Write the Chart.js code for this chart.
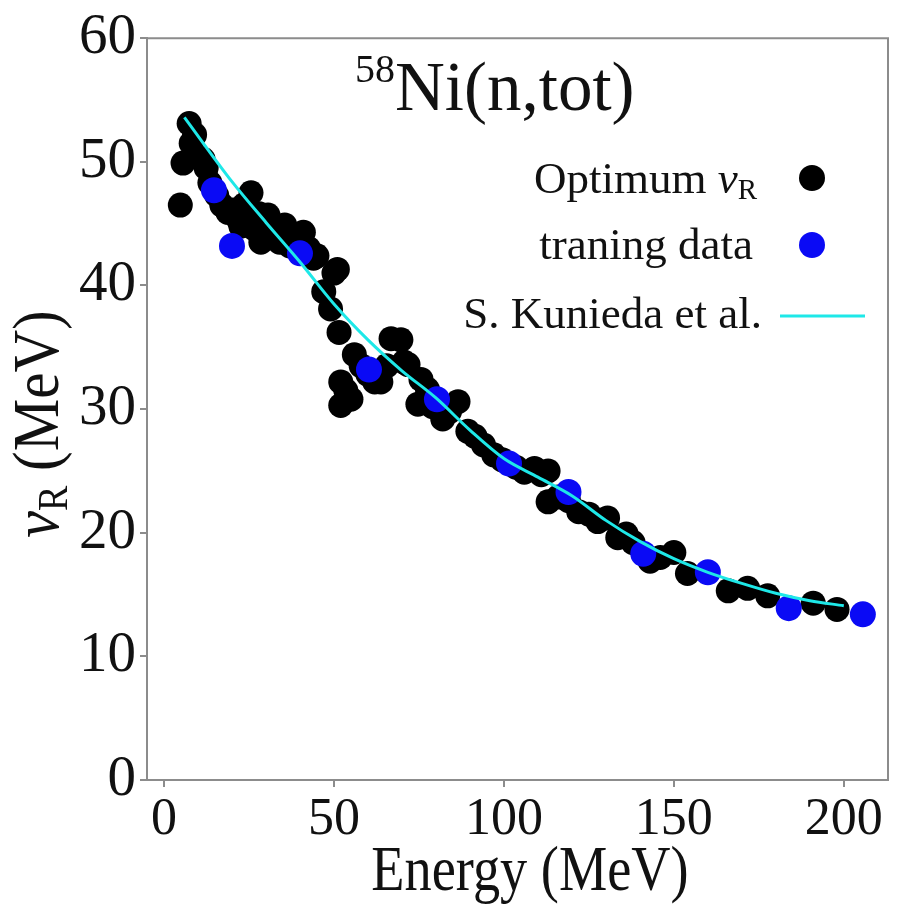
<!DOCTYPE html>
<html>
<head>
<meta charset="utf-8">
<script src="https://cdn.jsdelivr.net/npm/chart.js@4.4.1/dist/chart.umd.min.js"></script>
<style>
  body { margin: 0; background: #fff; }
  #wrap { width: 907px; height: 906px; }
</style>
</head>
<body>
<div id="wrap"><canvas id="nuChart" width="907" height="906"></canvas></div>
<script>
// Optimum nu_R values per energy (MeV)
const energyOpt = [4.8, 5.6, 7.4, 8.0, 9.0, 10.5, 11.5, 12.4, 13.5, 15.5, 17.0, 18.8, 20.3, 22.0, 22.6,
  23.5, 25.6, 26.5, 28.0, 28.5, 30.6, 31.5, 32.4, 34.0, 35.5, 37.0, 38.5, 41.0, 42.5, 44.0, 45.0,
  47.0, 49.0, 50.0, 51.0, 51.5, 52.0, 52.0, 53.5, 55.0, 56.0, 58.0, 60.0, 62.0, 63.8, 65.5, 66.8,
  69.7, 70.6, 71.8, 74.7, 75.6, 77.5, 79.0, 82.0, 84.0, 86.5, 89.4, 91.5, 94.0, 97.0, 99.5, 103.5,
  106.0, 109.0, 111.0, 113.0, 113.0, 116.0, 119.0, 122.0, 125.0, 127.6, 130.5, 133.5, 136.0, 138.0,
  143.0, 146.0, 150.0, 154.0, 166.0, 171.7, 177.6, 191.0, 198.0];
const nuOpt = [46.5, 49.9, 53.1, 51.5, 52.2, 50.3, 50.2, 49.5, 48.3, 47.3, 46.5, 45.9, 46.1, 45.3, 44.8,
  46.5, 47.5, 44.6, 45.8, 43.5, 45.7, 44.8, 44.0, 43.5, 44.9, 43.2, 43.6, 44.3, 43.0, 42.2, 42.4,
  39.5, 38.1, 41.0, 41.3, 36.2, 32.2, 30.3, 31.5, 30.8, 34.4, 33.5, 32.8, 32.2, 32.2, 33.5, 35.7,
  35.6, 33.8, 33.6, 30.4, 32.4, 31.6, 30.2, 29.2, 29.8, 30.6, 28.2, 27.8, 27.1, 26.3, 25.9, 25.3,
  24.9, 25.2, 24.7, 25.0, 22.5, 22.9, 22.6, 21.7, 21.5, 20.9, 21.2, 19.6, 19.9, 19.2,
  17.7, 18.0, 18.4, 16.7, 15.3, 15.5, 14.9, 14.3, 13.8];

// training data
const energyTrain = [14.7, 20.0, 40.0, 60.3, 80.3, 101.5, 119.0, 141.0, 160.0, 183.8, 205.6];
const nuTrain = [47.7, 43.2, 42.6, 33.2, 30.8, 25.6, 23.3, 18.3, 16.8, 13.9, 13.4];

// S. Kunieda et al. systematics
const energyKunieda = [6, 20, 30, 40, 50, 60, 70, 80, 90, 100, 110, 120, 130, 140, 150, 160, 170, 180, 190, 200];
const nuKunieda = [53.6, 48.4, 45.1, 41.9, 38.5, 35.6, 33.1, 30.9, 28.3, 26.0, 24.5, 23.0, 21.0, 19.3, 17.9, 16.8, 15.9, 15.1, 14.5, 14.1];

const xTicks = [0, 50, 100, 150, 200];
const yTicks = [0, 10, 20, 30, 40, 50, 60];

const toXY = (xs, ys) => xs.map((x, i) => ({ x: x, y: ys[i] }));

const SERIF = '"Liberation Serif", "Times New Roman", serif';
const INK = '#111';
const AXIS = '#8c8c8c';
const CYAN = '#1ee8e8';
const BLUE = '#0a0af5';

// text runs: each piece is [text, font, dy]
function runWidth(ctx, parts) {
  let w = 0;
  parts.forEach(p => { ctx.font = p[1]; w += ctx.measureText(p[0]).width; });
  return w;
}
function drawRun(ctx, parts, x, y) {
  parts.forEach(p => {
    ctx.font = p[1];
    ctx.fillText(p[0], x, y + (p[2] || 0));
    x += ctx.measureText(p[0]).width;
  });
}

const decorations = {
  id: 'decorations',
  afterDraw(chart) {
    const ctx = chart.ctx;
    const a = chart.chartArea;
    ctx.save();
    // top and right frame
    ctx.strokeStyle = AXIS;
    ctx.lineWidth = 2;
    ctx.beginPath();
    ctx.moveTo(a.left, a.top);
    ctx.lineTo(a.right, a.top);
    ctx.lineTo(a.right, a.bottom);
    ctx.stroke();

    ctx.fillStyle = INK;
    ctx.textBaseline = 'alphabetic';
    ctx.textAlign = 'left';

    // title
    drawRun(ctx, [
      ['58', '40px ' + SERIF, -28],
      ['Ni(n,tot)', '69px ' + SERIF, 0]
    ], 355, 110);

    // legend
    const rows = [
      { x: 757, y: 193, parts: [['Optimum ', '45px ' + SERIF], ['ν', 'italic 45px ' + SERIF], ['R', '29px ' + SERIF, 6]] },
      { x: 753, y: 259, parts: [['traning data', '45px ' + SERIF]] },
      { x: 762, y: 328, parts: [['S. Kunieda et al.', '45px ' + SERIF]] }
    ];
    rows.forEach(r => drawRun(ctx, r.parts, r.x - runWidth(ctx, r.parts), r.y));
    ctx.fillStyle = '#000';
    ctx.beginPath(); ctx.arc(812, 178, 13, 0, Math.PI * 2); ctx.fill();
    ctx.fillStyle = BLUE;
    ctx.beginPath(); ctx.arc(812, 245, 13, 0, Math.PI * 2); ctx.fill();
    ctx.strokeStyle = CYAN;
    ctx.lineWidth = 3;
    ctx.beginPath(); ctx.moveTo(780, 316); ctx.lineTo(865, 316); ctx.stroke();

    // x axis title
    ctx.fillStyle = INK;
    ctx.save();
    ctx.translate(530, 890);
    ctx.scale(0.97, 1.15);
    ctx.font = '56px ' + SERIF;
    ctx.textAlign = 'center';
    ctx.fillText('Energy (MeV)', 0, 0);
    ctx.restore();

    // y axis title
    ctx.translate(58, 424);
    ctx.rotate(-Math.PI / 2);
    ctx.scale(1.0, 1.1);
    ctx.textAlign = 'left';
    const yParts = [['ν', 'italic 60px ' + SERIF], ['R', '38px ' + SERIF, 8], [' (MeV)', '59px ' + SERIF]];
    drawRun(ctx, yParts, -runWidth(ctx, yParts) / 2, 0);
    ctx.restore();
  }
};

new Chart(document.getElementById('nuChart'), {
  type: 'scatter',
  data: {
    datasets: [
      {
        label: 'S. Kunieda et al.',
        type: 'line',
        data: toXY(energyKunieda, nuKunieda),
        borderColor: CYAN,
        borderWidth: 3,
        pointRadius: 0,
        cubicInterpolationMode: 'monotone',
        fill: false
      },
      {
        label: 'traning data',
        data: toXY(energyTrain, nuTrain),
        backgroundColor: BLUE,
        borderWidth: 0,
        pointRadius: 13
      },
      {
        label: 'Optimum vR',
        data: toXY(energyOpt, nuOpt),
        backgroundColor: '#000',
        borderWidth: 0,
        pointRadius: 12.5
      }
    ]
  },
  options: {
    responsive: false,
    animation: false,
    layout: { padding: { top: 35, right: 19, left: 0, bottom: 0 } },
    plugins: {
      legend: { display: false },
      tooltip: { enabled: false }
    },
    scales: {
      x: {
        type: 'linear',
        min: -5,
        max: 213,
        afterBuildTicks: s => { s.ticks = xTicks.map(v => ({ value: v })); },
        afterFit: s => { s.height = 126; },
        grid: { drawOnChartArea: false, drawTicks: true, tickLength: 7, color: AXIS, lineWidth: 2 },
        border: { color: AXIS, width: 2 },
        ticks: { color: INK, padding: 2, font: { family: SERIF, size: 52 } }
      },
      y: {
        type: 'linear',
        min: 0,
        max: 60,
        afterBuildTicks: s => { s.ticks = yTicks.map(v => ({ value: v })); },
        afterFit: s => { s.width = 147; },
        grid: { drawOnChartArea: false, drawTicks: true, tickLength: 7, color: AXIS, lineWidth: 2 },
        border: { color: AXIS, width: 2 },
        ticks: { color: INK, padding: 4, font: { family: SERIF, size: 57 } }
      }
    }
  },
  plugins: [decorations]
});
</script>
</body>
</html>
